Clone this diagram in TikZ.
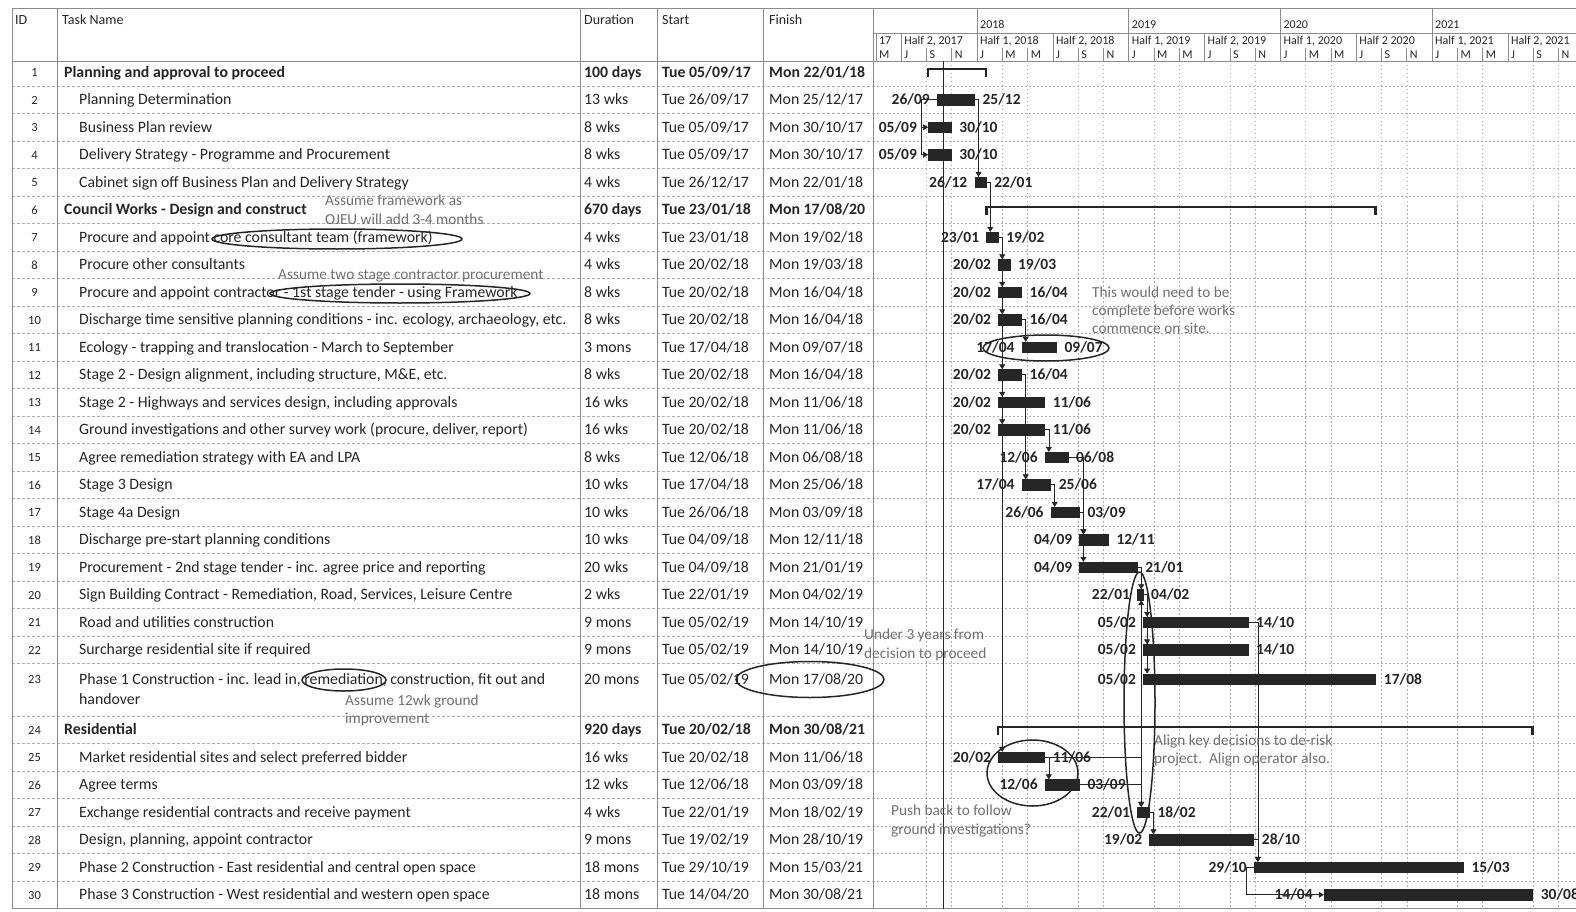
\documentclass[tikz,border=0pt]{standalone}
\usepackage{fontspec}
\setmainfont{Carlito}
\usetikzlibrary{positioning}
\usetikzlibrary{arrows.meta}
\definecolor{ink}{RGB}{38, 38, 38}
\definecolor{notegray}{RGB}{112, 112, 112}
\definecolor{gridgray}{RGB}{175, 175, 175}
\definecolor{linegray}{RGB}{140, 140, 140}

\tikzset{
  cell/.style={anchor=west, inner sep=0pt, text height=10pt, text depth=0pt, text=ink, font=\fontsize{15.8}{18}\selectfont},
  sumcell/.style={cell, font=\fontsize{15.8}{18}\selectfont\bfseries},
  idcell/.style={inner sep=0pt, text height=9pt, text depth=0pt, text=ink, font=\fontsize{12.5}{15}\selectfont},
  headcell/.style={cell, font=\fontsize{14}{16}\selectfont},
  scalecell/.style={anchor=west, inner sep=0pt, text height=8pt, text depth=0pt, text=ink, font=\fontsize{12}{14}\selectfont},
  taskbar/.style={fill=ink, draw=ink, line width=0.3pt, minimum height=10.5pt, inner sep=0pt, anchor=west},
  datelab/.style={inner sep=0pt, text height=10pt, text depth=0pt, text=ink, font=\fontsize{15.5}{18}\selectfont\bfseries},
  deplink/.style={draw=ink, line width=0.6pt, -{Triangle[width=6pt,length=5pt]}},
  sumbar/.style={draw=ink, line width=2.4pt},
  memo/.style={cell, text=notegray, font=\fontsize{15.3}{18}\selectfont},
  handring/.style={draw=ink, line width=1.5pt},
  rowrule/.style={draw=gridgray, dash pattern=on 3pt off 2pt, line width=0.5pt},
  gridrule/.style={draw=gridgray, dash pattern=on 1.5pt off 2.5pt, line width=0.5pt},
  colrule/.style={draw=linegray, line width=0.6pt},
}

\begin{document}
\begin{tikzpicture}[x=1pt, y=-1pt]
  \fill[white] (0,0) rectangle (1576,912);
  \useasboundingbox (0,0) rectangle (1576,912);

  % grid of the table and the chart
  \foreach \yy in {86,113.5,...,663.5,716,743.5,...,881}{
    \draw[rowrule] (12,\yy) -- (873,\yy);
    \draw[gridrule] (873,\yy) -- (1576,\yy);
  }
  \foreach \k in {-4,-2,2,4,8,10,14,16,20,22,26,28,32,34,38,40,44,46}
    \draw[gridrule] ({977+12.64*\k},61) -- ({977+12.64*\k},908.5);
  \foreach \x in {12,57,580,657,763,873}
    \draw[colrule] (\x,8) -- (\x,908.5);
  \draw[colrule] (12,8) -- (1576,8);
  \draw[colrule] (12,61) -- (1576,61);
  \draw[colrule] (873,33) -- (1576,33);
  \draw[colrule] (12,908.5) -- (1576,908.5);

  % header
  \node[headcell] (hid) at (15,20) {ID};
  \node[headcell] (hname) at (62,20) {Task Name};
  \node[headcell] (hdur) at (584,20) {Duration};
  \node[headcell] (hstart) at (662,20) {Start};
  \node[headcell] (hfin) at (769,20) {Finish};

  % timescale
  \foreach \yr/\x in {2018/977,2019/1128.7,2020/1280.4,2021/1432}{
    \draw[colrule] (\x,8) -- (\x,33);
    \node[scalecell] (yr\yr) at (\x+3,25) {\yr};
  }
  \foreach \x/\lab [count=\c] in {875.9/17,901.2/{Half 2, 2017},977/{Half 1, 2018},1052.8/{Half 2, 2018},
      1128.7/{Half 1, 2019},1204.5/{Half 2, 2019},1280.4/{Half 1, 2020},1356.2/{Half 2 2020},
      1432/{Half 1, 2021},1507.9/{Half 2, 2021}}{
    \draw[colrule] (\x,33) -- (\x,61);
    \node[scalecell] (hf\c) at (\x+3,41) {\lab};
  }
  \foreach \k/\lt [count=\c] in {-8/M,-6/J,-4/S,-2/N,0/J,2/M,4/M,6/J,8/S,10/N,12/J,14/M,16/M,18/J,
      20/S,22/N,24/J,26/M,28/M,30/J,32/S,34/N,36/J,38/M,40/M,42/J,44/S,46/N}{
    \pgfmathsetmacro\mx{977+12.64*\k}
    \draw[colrule] (\mx,48) -- (\mx,61);
    \node[scalecell] (mo\c) at (\mx+3,55) {\lt};
  }

  % task table
  \foreach \rw/\yy/\nm/\du/\sta/\fin in {
    2/99.75/{Planning Determination}/{13 wks}/{Tue 26/09/17}/{Mon 25/12/17},
    3/127.25/{Business Plan review}/{8 wks}/{Tue 05/09/17}/{Mon 30/10/17},
    4/154.75/{Delivery Strategy - Programme and Procurement}/{8 wks}/{Tue 05/09/17}/{Mon 30/10/17},
    5/182.25/{Cabinet sign off Business Plan and Delivery Strategy}/{4 wks}/{Tue 26/12/17}/{Mon 22/01/18},
    7/237.25/{Procure and appoint core consultant team (framework)}/{4 wks}/{Tue 23/01/18}/{Mon 19/02/18},
    8/264.75/{Procure other consultants}/{4 wks}/{Tue 20/02/18}/{Mon 19/03/18},
    9/292.25/{Procure and appoint contractor - 1st stage tender - using Framework}/{8 wks}/{Tue 20/02/18}/{Mon 16/04/18},
    10/319.75/{Discharge time sensitive planning conditions - inc. ecology, archaeology, etc.}/{8 wks}/{Tue 20/02/18}/{Mon 16/04/18},
    11/347.25/{Ecology - trapping and translocation - March to September}/{3 mons}/{Tue 17/04/18}/{Mon 09/07/18},
    12/374.75/{Stage 2 - Design alignment, including structure, M\&E, etc.}/{8 wks}/{Tue 20/02/18}/{Mon 16/04/18},
    13/402.25/{Stage 2 - Highways and services design, including approvals}/{16 wks}/{Tue 20/02/18}/{Mon 11/06/18},
    14/429.75/{Ground investigations and other survey work (procure, deliver, report)}/{16 wks}/{Tue 20/02/18}/{Mon 11/06/18},
    15/457.25/{Agree remediation strategy with EA and LPA}/{8 wks}/{Tue 12/06/18}/{Mon 06/08/18},
    16/484.75/{Stage 3 Design}/{10 wks}/{Tue 17/04/18}/{Mon 25/06/18},
    17/512.25/{Stage 4a Design}/{10 wks}/{Tue 26/06/18}/{Mon 03/09/18},
    18/539.75/{Discharge pre-start planning conditions}/{10 wks}/{Tue 04/09/18}/{Mon 12/11/18},
    19/567.25/{Procurement - 2nd stage tender - inc. agree price and reporting}/{20 wks}/{Tue 04/09/18}/{Mon 21/01/19},
    20/594.75/{Sign Building Contract - Remediation, Road, Services, Leisure Centre}/{2 wks}/{Tue 22/01/19}/{Mon 04/02/19},
    21/622.25/{Road and utilities construction}/{9 mons}/{Tue 05/02/19}/{Mon 14/10/19},
    22/649.75/{Surcharge residential site if required}/{9 mons}/{Tue 05/02/19}/{Mon 14/10/19},
    25/757.25/{Market residential sites and select preferred bidder}/{16 wks}/{Tue 20/02/18}/{Mon 11/06/18},
    26/784.75/{Agree terms}/{12 wks}/{Tue 12/06/18}/{Mon 03/09/18},
    27/812.25/{Exchange residential contracts and receive payment}/{4 wks}/{Tue 22/01/19}/{Mon 18/02/19},
    28/839.75/{Design, planning, appoint contractor}/{9 mons}/{Tue 19/02/19}/{Mon 28/10/19},
    29/867.25/{Phase 2 Construction - East residential and central open space}/{18 mons}/{Tue 29/10/19}/{Mon 15/03/21},
    30/894.75/{Phase 3 Construction - West residential and western open space}/{18 mons}/{Tue 14/04/20}/{Mon 30/08/21}}{
    \node[idcell] (id\rw) at (34.5,\yy) {\rw};
    \node[cell] (tn\rw) at (79,\yy) {\nm};
    \node[cell] (du\rw) at (584,\yy) {\du};
    \node[cell] (st\rw) at (662,\yy) {\sta};
    \node[cell] (fi\rw) at (769,\yy) {\fin};
  }
  \foreach \rw/\yy/\nm/\du/\sta/\fin in {
    1/72.25/{Planning and approval to proceed}/{100 days}/{Tue 05/09/17}/{Mon 22/01/18},
    6/209.75/{Council Works - Design and construct}/{670 days}/{Tue 23/01/18}/{Mon 17/08/20},
    24/729.75/{Residential}/{920 days}/{Tue 20/02/18}/{Mon 30/08/21}}{
    \node[idcell] (id\rw) at (34.5,\yy) {\rw};
    \node[sumcell] (tn\rw) at (64,\yy) {\nm};
    \node[sumcell] (du\rw) at (584,\yy) {\du};
    \node[sumcell] (st\rw) at (662,\yy) {\sta};
    \node[sumcell] (fi\rw) at (769,\yy) {\fin};
  }
  \node[idcell] (id23) at (34.5,679) {23};
  \node[cell] (tn23) at (79,679) {Phase 1 Construction - inc. lead in, remediation, construction, fit out and};
  \node[cell] (tn23b) at (79,699) {handover};
  \node[cell] (du23) at (584,679) {20 mons};
  \node[cell] (st23) at (662,679) {Tue 05/02/19};
  \node[cell] (fi23) at (769,679) {Mon 17/08/20};

  % status date
  \draw[draw=ink, line width=0.7pt] (943,61) -- (943,908.5);

  % summary brackets
  \foreach \rw/\yy/\xa/\xb in {1/72.25/928.1/985.8, 6/209.75/986.3/1375.4, 24/729.75/998.2/1532.3}{
    \coordinate (sa\rw) at (\xa,\yy-3);
    \coordinate (sb\rw) at (\xb,\yy-3);
    \draw[sumbar] ([yshift=-8pt]sa\rw) -- (sa\rw) -- (sb\rw) -- ([yshift=-8pt]sb\rw);
  }

  % task bars with their dates
  \foreach \rw/\yy/\xa/\xb/\sd/\sm/\fd/\fm/\gp in {
    2/99.75/937.0/974.1/26/09/25/12/7, 3/127.25/928.1/950.9/05/09/30/10/11,
    4/154.75/928.1/950.9/05/09/30/10/11, 5/182.25/974.5/985.8/26/12/22/01/7,
    7/237.25/986.3/997.8/23/01/19/02/7, 8/264.75/998.2/1009.6/20/02/19/03/7,
    9/292.25/998.2/1021.2/20/02/16/04/7, 10/319.75/998.2/1021.2/20/02/16/04/7,
    11/347.25/1021.7/1056.1/17/04/09/07/7, 12/374.75/998.2/1021.2/20/02/16/04/7,
    13/402.25/998.2/1044.4/20/02/11/06/7, 14/429.75/998.2/1044.4/20/02/11/06/7,
    15/457.25/1044.8/1067.5/12/06/06/08/7, 16/484.75/1021.7/1050.3/17/04/25/06/7,
    17/512.25/1050.7/1079.0/26/06/03/09/7, 18/539.75/1079.4/1108.0/04/09/12/11/7,
    19/567.25/1079.4/1136.8/04/09/21/01/7, 20/594.75/1137.2/1142.7/22/01/04/02/7,
    21/622.25/1143.1/1247.7/05/02/14/10/7, 22/649.75/1143.1/1247.7/05/02/14/10/7,
    23/679/1143.1/1375.4/05/02/17/08/7, 25/757.25/998.2/1044.4/20/02/11/06/7,
    26/784.75/1044.8/1079.0/12/06/03/09/7, 27/812.25/1137.2/1149.0/22/01/18/02/7,
    28/839.75/1149.4/1253.4/19/02/28/10/7, 29/867.25/1253.9/1463.0/29/10/15/03/7,
    30/894.75/1323.8/1532.3/14/04/30/08/11}{
    \pgfmathsetmacro\bw{\xb-\xa}
    \node[taskbar, minimum width=\bw pt] (b\rw) at (\xa,\yy) {};
    \node[datelab, left=\gp pt of b\rw] (l\rw) {\sd/\sm};
    \node[datelab, right=8pt of b\rw] (e\rw) {\fd/\fm};
  }

  % links
  \foreach \from/\to in {2/5, 5/7, 7/8, 7/9, 7/10, 7/12, 7/13, 7/14, 7/25, 10/11, 12/16, 14/15, 15/18,
      16/17, 17/18, 17/19, 19/20, 20/21, 20/22, 20/23, 25/26, 25/27, 26/27, 27/28, 21/29, 28/29}
    \draw[deplink] (b\from.east) -| ([xshift=4pt]b\to.north west);
  \draw[deplink] (b26.east) -| ([xshift=4pt]b20.south west);
  \draw[deplink] (b2.west) -- ++(-16,0) |- (b3.west);
  \draw[deplink] (b2.west) -- ++(-16,0) |- (b4.west);
  \draw[deplink] (b29.west) -- ++(-8,0) |- (b30.west);

  % notes
  \node[memo] (nt1) at (325,201) {Assume framework as};
  \node[memo] (nt2) at (325,219) {OJEU will add 3-4 months};
  \node[memo] (nt3) at (278,274) {Assume two stage contractor procurement};
  \node[memo] (nt4) at (1092,292) {This would need to be};
  \node[memo] (nt5) at (1092,310) {complete before works};
  \node[memo] (nt6) at (1092,328) {commence on site.};
  \node[memo] (nt7) at (864,634) {Under 3 years from};
  \node[memo] (nt8) at (864,653) {decision to proceed};
  \node[memo] (nt9) at (345,700) {Assume 12wk ground};
  \node[memo] (nt10) at (345,718) {improvement};
  \node[memo] (nt11) at (1154,740) {Align key decisions to de-risk};
  \node[memo] (nt12) at (1154,758) {project.\ \ Align operator also.};
  \node[memo] (nt13) at (891,810) {Push back to follow};
  \node[memo] (nt14) at (891,829) {ground investigations?};

  % hand drawn rings
  \draw[handring] (337,239) ellipse [x radius=125pt, y radius=10pt];
  \draw[handring] (400,293.5) ellipse [x radius=130pt, y radius=9.5pt];
  \draw[handring] (1046,348) ellipse [x radius=63pt, y radius=13pt];
  \draw[handring] (344,680) ellipse [x radius=42pt, y radius=11pt];
  \draw[handring] (810,679.5) ellipse [x radius=74pt, y radius=18pt];
  \draw[handring] (1139.5,702.5) ellipse [x radius=15.5pt, y radius=130.5pt];
  \draw[handring] (1032.5,773) ellipse [x radius=45.5pt, y radius=33pt];
\end{tikzpicture}
\end{document}
